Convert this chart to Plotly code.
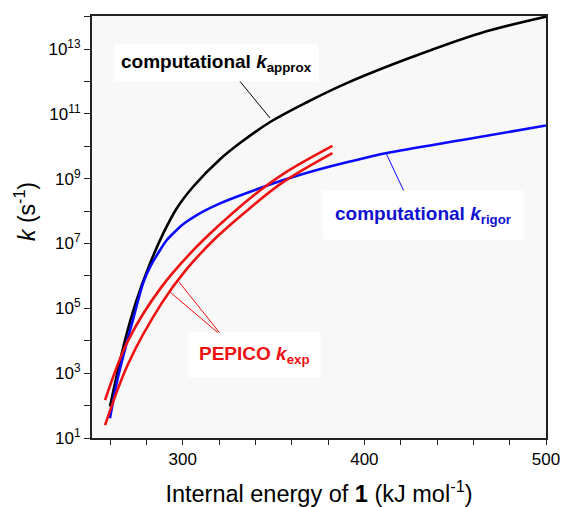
import plotly.graph_objects as go

# ---- data, rate constants as log10(k / s^-1) ----
energy_approx = [259.9, 268.2, 274.6, 282.0, 289.3, 296.7, 305.8, 320.5, 331.5, 348.1, 368.3, 390.3, 427.0, 463.8, 500.0]
log_k_approx = [1.97, 4.02, 5.26, 6.39, 7.32, 8.09, 8.76, 9.6, 10.1, 10.75, 11.36, 11.95, 12.77, 13.49, 14.0]

energy_rigor = [259.9, 264.0, 269.5, 273.0, 278.3, 282.0, 287.5, 291.1, 296.7, 300.3, 307.7, 320.5, 337.1, 355.4, 373.8, 392.1, 412.4, 454.6, 500.0]
log_k_rigor = [1.61, 2.8, 4.02, 4.74, 5.8, 6.28, 6.8, 7.1, 7.42, 7.6, 7.88, 8.24, 8.6, 8.96, 9.27, 9.53, 9.79, 10.2, 10.64]

energy_exp_upper = [257.2, 270.0, 288.4, 306.7, 318.7, 337.1, 355.4, 382.4]
log_k_exp_upper = [2.17, 4.02, 5.67, 6.85, 7.5, 8.4, 9.15, 10.01]

energy_exp_lower = [257.2, 270.0, 288.4, 301.2, 318.7, 337.1, 355.4, 382.4]
log_k_exp_lower = [1.4, 3.3, 5.16, 6.15, 7.2, 8.1, 8.9, 9.79]

x_tickvals = [260, 280, 300, 320, 340, 360, 380, 400, 420, 440, 460, 480, 500]
x_ticktext = ["", "", "300", "", "", "", "", "400", "", "", "", "", "500"]
y_exponents = list(range(1, 15))
y_tickvals = [10 ** e for e in y_exponents]
y_ticktext = [f"10<sup>{e}</sup>" if e % 2 == 1 else "" for e in y_exponents]

FONT = "Liberation Sans, Arial, sans-serif"
BLACK = "#000000"
BLUE = "#0a0aff"
BLUE_TXT = "#1010d0"
RED = "#ee1111"


def to_k(vals):
    return [10 ** v for v in vals]


fig = go.Figure()
fig.add_trace(go.Scatter(x=energy_approx, y=to_k(log_k_approx), mode="lines",
                         line=dict(color=BLACK, width=2.6, shape="spline")))
fig.add_trace(go.Scatter(x=energy_rigor, y=to_k(log_k_rigor), mode="lines",
                         line=dict(color=BLUE, width=2.6, shape="spline")))
fig.add_trace(go.Scatter(x=energy_exp_upper, y=to_k(log_k_exp_upper), mode="lines",
                         line=dict(color=RED, width=2.6, shape="spline")))
fig.add_trace(go.Scatter(x=energy_exp_lower, y=to_k(log_k_exp_lower), mode="lines",
                         line=dict(color=RED, width=2.6, shape="spline")))

L, R, T, B = 92, 16, 16, 69
W, H = 562, 507
pw, ph = W - L - R, H - T - B


def px(x):
    return (x - L) / pw


def py(y):
    return (H - B - y) / ph


# pointer lines (paper coords from pixel positions)
pointers = [
    ((238, 79), (270, 118), BLACK),
    ((408, 200), (386, 153), BLUE),
    ((223, 337), (170, 292), RED),
    ((223, 337), (179, 282), RED),
]
shapes = []
for (x0, y0), (x1, y1), c in pointers:
    shapes.append(dict(type="line", xref="paper", yref="paper",
                       x0=px(x0), y0=py(y0), x1=px(x1), y1=py(y1),
                       line=dict(color=c, width=1)))

annotations = [
    dict(text="<b>computational <i>k</i><sub>approx</sub></b>", x=px(114), y=py(63),
         xanchor="left", yanchor="middle", font=dict(size=19, color=BLACK, family=FONT),
         bgcolor="white", borderpad=6),
    dict(text="<b>computational <i>k</i><sub>rigor</sub></b>", x=px(322), y=py(215),
         xanchor="left", yanchor="middle", font=dict(size=19, color=BLUE_TXT, family=FONT),
         bgcolor="white", borderpad=12),
    dict(text="<b>PEPICO <i>k</i><sub>exp</sub></b>", x=px(188), y=py(355),
         xanchor="left", yanchor="middle", font=dict(size=19, color=RED, family=FONT),
         bgcolor="white", borderpad=10),
    dict(text="<i>k</i> (s<sup>-1</sup>)", x=px(25), y=py(212), textangle=-90,
         xanchor="center", yanchor="middle", font=dict(size=23, color=BLACK, family=FONT)),
]
for a in annotations:
    a.update(xref="paper", yref="paper", showarrow=False)

fig.update_layout(
    width=W, height=H,
    margin=dict(l=L, r=R, t=T, b=B),
    paper_bgcolor="white",
    plot_bgcolor="#f8f8f8",
    showlegend=False,
    font=dict(family=FONT, color="black"),
    shapes=shapes,
    annotations=annotations,
    xaxis=dict(
        range=[250, 500], tickvals=x_tickvals, ticktext=x_ticktext,
        ticks="outside", ticklen=5, tickwidth=1.2, tickcolor="#222",
        showline=True, linecolor="#222", linewidth=2, mirror=True,
        showgrid=False, zeroline=False, automargin=False,
        tickfont=dict(size=17, family=FONT),
        title=dict(text="Internal energy of <b>1</b> (kJ mol<sup>-1</sup>)",
                   font=dict(size=23.5, family=FONT), standoff=20),
    ),
    yaxis=dict(
        type="log", range=[1, 14.02], tickvals=y_tickvals, ticktext=y_ticktext,
        ticks="outside", ticklen=6, tickwidth=1.2, tickcolor="#222",
        showline=True, linecolor="#222", linewidth=2, mirror=True,
        showgrid=False, zeroline=False, automargin=False,
        tickfont=dict(size=17, family=FONT),
    ),
)

fig.write_html("out.html", config={"displayModeBar": False},
               post_script="document.body.style.margin='0';")
